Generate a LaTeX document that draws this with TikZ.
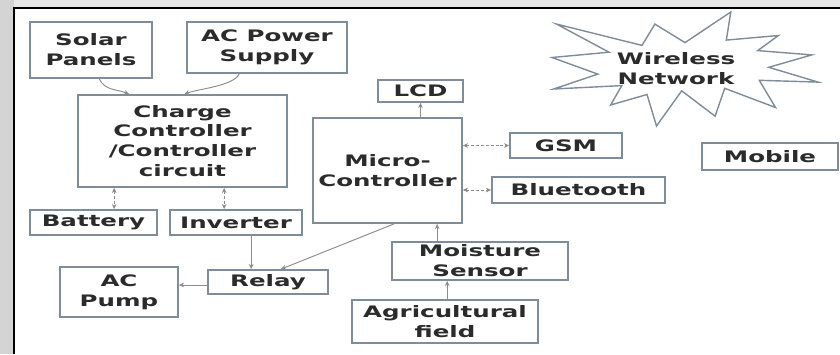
\documentclass[tikz,border=0pt]{standalone}
\usepackage{fontspec}
\setmainfont{DejaVu Sans}[FakeStretch=1.55]
\usetikzlibrary{calc,arrows.meta}
\definecolor{boxline}{HTML}{7F8C99}
\definecolor{arr}{HTML}{8C8C8C}
\definecolor{txt}{HTML}{2B2B2B}
\definecolor{bgg}{HTML}{D4D4D4}
\definecolor{bgtop}{HTML}{E8E8E8}
\newcommand\pxu{0.3mm}
\begin{document}
\begin{tikzpicture}[x=0.3mm,y=-0.3mm,
  lbl/.style={text=txt, font=\bfseries\fontsize{13.5}{17}\selectfont, align=center},
  box/.style={lbl, draw=boxline, line width=1.4pt, fill=white, inner sep=0pt},
  conn/.style={draw=arr, line width=0.8pt, -{Stealth[length=4.5pt,width=4pt]}},
  dconn/.style={draw=arr, line width=0.8pt, dash pattern=on 2.5pt off 1.7pt,
    {Stealth[length=4.5pt,width=4pt]}-{Stealth[length=4.5pt,width=4pt]}}]
\useasboundingbox (0,0) rectangle (840,354);
% background and frame
\fill[bgg] (0,0) rectangle (840,354);
\fill[bgtop] (14,0) rectangle (840,8);
\fill[white] (14,8) rectangle (840,354);
\draw[black, line width=1.8pt] (14,354) -- (14,8) -- (840,8);
% star
\draw[boxline, line width=1.2pt, fill=white, line join=miter]
 (685.0,42.6) -- (730.8,12) -- (726.3,40.1) -- (778.4,35.5) -- (757.7,50.6)
 -- (811.8,54.9) -- (768.8,67.3) -- (818,82.1) -- (759.3,80.3) -- (775.5,107.5)
 -- (724.7,88.3) -- (715.1,116.2) -- (681.7,90.8) -- (656.5,126) -- (647.0,94.5)
 -- (610.6,105.0) -- (621.8,85.6) -- (553.7,89.0) -- (597.8,74.1) -- (552,57.5)
 -- (609.0,52.2) -- (556.6,24.1) -- (642.0,45.4) -- (654.9,24.1) -- cycle;
\node[lbl] (wireless) at (676,69) {Wireless\\Network};
% boxes
\node[box, minimum width=122*\pxu, minimum height=56*\pxu] (solar) at (91,50) {Solar\\Panels};
\node[box, minimum width=160*\pxu, minimum height=51*\pxu] (acps) at (267,47.5) {AC Power\\Supply};
\node[box, minimum width=209*\pxu, minimum height=92*\pxu] (charge) at (182.5,141) {Charge\\Controller\\/Controller\\circuit};
\node[box, minimum width=85*\pxu, minimum height=22*\pxu] (lcd) at (420.5,91) {LCD};
\node[box, minimum width=149*\pxu, minimum height=105*\pxu] (micro) at (387.5,170.5) {Micro-\\Controller};
\node[box, minimum width=112*\pxu, minimum height=25*\pxu] (gsm) at (566,145.5) {GSM};
\node[box, minimum width=136*\pxu, minimum height=27*\pxu] (mobile) at (770,156.5) {Mobile};
\node[box, minimum width=173*\pxu, minimum height=26*\pxu] (bt) at (578.5,190) {Bluetooth};
\node[box, minimum width=176*\pxu, minimum height=38*\pxu] (moist) at (480,261) {Moisture\\Sensor};
\node[box, minimum width=186*\pxu, minimum height=43*\pxu] (agri) at (445,321.5) {Agricultural\\field};
\node[box, minimum width=127*\pxu, minimum height=25*\pxu] (battery) at (93.5,222.5) {Battery};
\node[box, minimum width=132*\pxu, minimum height=25*\pxu] (inverter) at (236,222.5) {Inverter};
\node[box, minimum width=120*\pxu, minimum height=24*\pxu] (relay) at (268,282) {Relay};
\node[box, minimum width=118*\pxu, minimum height=50*\pxu] (pump) at (119,292) {AC\\Pump};
% connectors
\draw[conn] ($(solar.south west)+(70,0)$) .. controls ($(solar.south west)+(76,12)$) and ($(charge.north west)+(40,-5)$) .. ($(charge.north west)+(52,0)$);
\draw[conn] ($(acps.south west)+(53,0)$) .. controls ($(acps.south west)+(48,12)$) and ($(charge.north west)+(120,-5)$) .. ($(charge.north west)+(107,0)$);
\draw[dconn] ($(charge.south west)+(37,0)$) -- ($(battery.north west)+(85,0)$);
\draw[dconn] ($(charge.south west)+(147,0)$) -- ($(inverter.north west)+(55,0)$);
\draw[conn] ($(inverter.south west)+(82,0)$) -- ($(relay.north west)+(44,0)$);
\draw[conn] ($(micro.south west)+(82,0)$) -- ($(relay.north east)+(-48,0)$);
\draw[conn] ($(relay.west)+(0,3)$) -- ($(relay.west -| pump.east)+(0,3)$);
\draw[conn] ($(moist.north west)+(46,0)$) -- ($(micro.south west)+(125,0)$);
\draw[conn] ($(agri.north west)+(96,0)$) -- ($(moist.south west)+(56,0)$);
\draw[conn] (lcd.south |- micro.north) -- (lcd.south);
\draw[dconn] (micro.east |- gsm.west) -- (gsm.west);
\draw[dconn] (micro.east |- bt.west) -- (bt.west);
\end{tikzpicture}
\end{document}
